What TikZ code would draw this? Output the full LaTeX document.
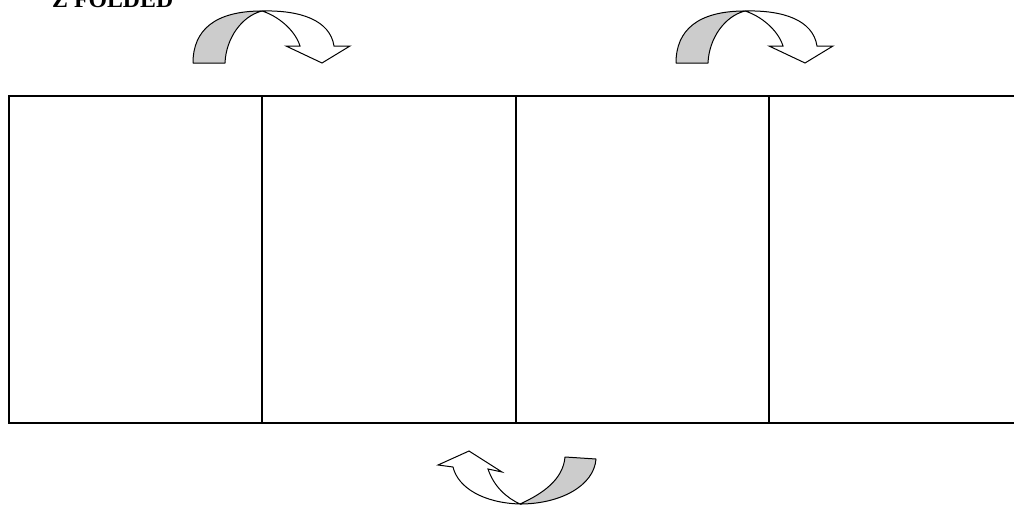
\documentclass[tikz,border=0pt]{standalone}
\usepackage{fontspec}
\setmainfont{Liberation Serif}
\usetikzlibrary{positioning}
\tikzset{
	panel/.style={draw, line width=1.8pt, minimum width=253.3pt, minimum height=327pt, inner sep=0pt},
	foldback/.style={draw, line width=1pt, line join=round, fill=gray!40},
	foldfront/.style={draw, line width=1pt, line join=miter, fill=white},
	heading/.style={font=\bfseries\fontsize{23.8}{28}\selectfont, inner sep=0pt}
}

\begin{document}
\begin{tikzpicture}[x=1pt, y=-1pt]
	\useasboundingbox (0,0) rectangle (1014,506);
	
	% --- Title (cut at the top edge) ---
	\node[heading, anchor=base west] (title) at (52,8) {Z FOLDED};
	
	% --- Panels ---
	\foreach \i in {0,1,2,3} \node[panel] (p\i) at (135.7+253.3*\i, 259.5) {};
	
	% --- Top arrows: fold over to the right ---
	\foreach \dx in {0,483} {
		\begin{scope}[shift={(\dx,0)}]
			\draw[foldback] (193,63) .. controls (193,30) and (215,11) .. (262,11)
				.. controls (242,16) and (226,38) .. (225,63) -- cycle;
			\draw[foldfront] (262,11) .. controls (300,10) and (330,20) .. (334,46)
				-- (350,46) -- (322,63) -- (286,46) -- (300,46)
				.. controls (295,30) and (278,16) .. (262,11) -- cycle;
		\end{scope}
	}
	
	% --- Bottom arrow: fold back under to the left ---
	\draw[foldback] (565,457) -- (596,459) .. controls (594,486) and (560,504) .. (520,504)
		.. controls (542,494) and (563,480) .. (565,457) -- cycle;
	\draw[foldfront] (520,504) .. controls (484,503) and (458,488) .. (453,467)
		-- (438,465) -- (469,451) -- (502,472) -- (488,469)
		.. controls (494,487) and (507,498) .. (520,504) -- cycle;
\end{tikzpicture}
\end{document}
